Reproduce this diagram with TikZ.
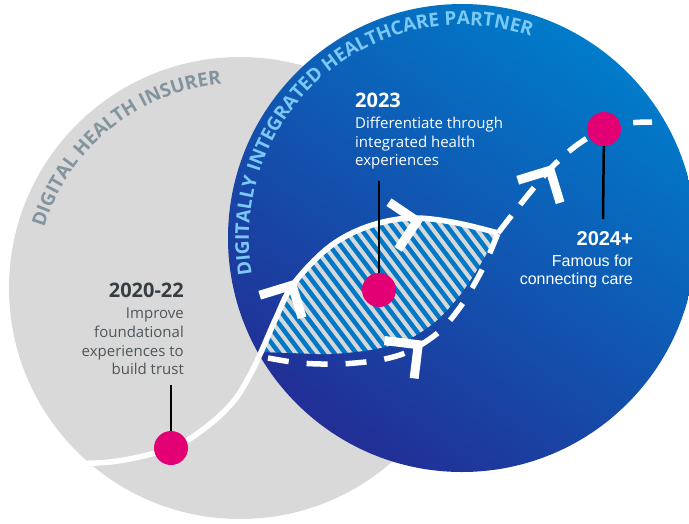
\documentclass[tikz,border=0pt]{standalone}
\usepackage{fontspec}
\setmainfont{Open Sans}
\newfontfamily\arialfont{Liberation Sans}
\newfontfamily\arcfont{Open Sans}
\usetikzlibrary{calc,decorations.text}

\definecolor{greydisc}{RGB}{217,217,217}
\definecolor{bluetop}{RGB}{0,124,202}
\definecolor{bluemid}{RGB}{14,88,182}
\definecolor{bluelow}{RGB}{34,46,150}
\definecolor{arcgrey}{RGB}{130,148,158}
\definecolor{arcblue}{RGB}{122,200,246}
\definecolor{pin}{RGB}{226,0,116}
\definecolor{hatchblue}{RGB}{0,120,200}
\definecolor{hatchgrey}{RGB}{215,215,215}
\definecolor{yeargrey}{RGB}{55,62,66}
\definecolor{bodygrey}{RGB}{78,86,90}

\tikzset{
  pathline/.style={white, line width=5.5pt},
  dashline/.style={white, line width=5.5pt, dash pattern=on 21pt off 18pt},
  dashlineup/.style={white, line width=5.5pt, dash pattern=on 22pt off 14pt},
  stem/.style={pin, line width=2.5pt},
  pindot/.style={circle, fill=pin, minimum size=34pt, inner sep=0pt},
  yeartext/.style={font=\bfseries\fontsize{20}{22}\selectfont, inner sep=0pt},
  bodytext/.style={font=\fontsize{15}{18.6}\selectfont, inner sep=0pt},
  chev/.pic={\draw[white, line width=9pt, line join=miter, miter limit=10]
    (-30,-24) -- (-6,0) -- (-30,24);},
}

\begin{document}
\begin{tikzpicture}[x=1pt, y=-1pt]
\useasboundingbox (0,0) rectangle (689,523);

% the two discs
\coordinate (gc) at (240,288);
\coordinate (bc) at (462,238);
\fill[greydisc] (gc) circle (231);
\shade[top color=bluetop, middle color=bluemid, bottom color=bluelow, shading angle=-35]
  (bc) circle (234);

% curved titles
\path[decorate, decoration={text along path, text align=center,
  text={|\arcfont\bfseries\fontsize{19}{19}\selectfont\color{arcgrey}|DIGITAL HEALTH INSURER}}]
  ($(gc)+(-175:205)$) arc[start angle=-175, end angle=-83, radius=205];
\path[decorate, decoration={text along path, text align=center,
  text={|\arcfont\bfseries\fontsize{19}{19}\selectfont\color{arcblue}|DIGITALLY INTEGRATED HEALTHCARE PARTNER}}]
  ($(bc)+(-200:213)$) arc[start angle=-200, end angle=-61, radius=213];

% striped lens between the two routes
\begin{scope}
  \clip plot[smooth] coordinates {(262,352) (276,318) (292,286) (322,253) (350,234)
      (383,222) (417,218) (457,223) (498,233)}
    -- plot[smooth] coordinates {(498,233) (480,265) (460,295) (435,322) (405,341)
      (370,350) (330,354) (290,353) (262,352)} -- cycle;
  \fill[hatchblue] (240,200) rectangle (520,380);
  \foreach \k in {0,...,38}
    \draw[hatchgrey, line width=4pt] (110+11*\k,195) -- ++(140,185);
\end{scope}

% routes
\draw[pathline] plot[smooth, tension=0.6] coordinates {(40,463) (110,462) (171,448)
  (205,428) (233,402) (250,375) (262,350) (276,318) (292,286) (322,253) (350,234)
  (383,222) (417,218) (457,223) (498,233)};
\coordinate (merge) at (498,233);
\draw[dashline] plot[smooth] coordinates {(268,358) (300,363) (340,364) (380,360)
  (410,351) (440,331) (463,303) (484,266) (merge)};
\draw[dashlineup] plot[smooth] coordinates {(merge) (512,215) (532,190) (553,166)
  (577,145) (604,129) (630,123) (652,122)};

% direction marks
\pic[rotate=62] at (295,280) {chev};
\pic[rotate=11] at (423,220) {chev};
\pic[rotate=38] at (423,341) {chev};
\pic[rotate=62] at (553,165) {chev};

% milestones
\coordinate (s1) at (171,385);
\coordinate (s2) at (379,181);
\coordinate (s3) at (603,219);
\node[pindot] (d1) at (171,448) {};
\node[pindot] (d2) at (379,290) {};
\node[pindot] (d3) at (604,129) {};
\draw[stem] (s1) -- (d1);
\draw[stem] (s2) -- (d2);
\draw[stem] (s3) -- (d3);

% labels
\node[yeartext, text=yeargrey, anchor=base east] (y1) at (184,297) {2020-22};
\node[bodytext, text=bodygrey, align=right, anchor=north east] (b1) at (184,308)
  {Improve\\foundational\\experiences to\\build trust};

\node[yeartext, text=white, anchor=base west] (y2) at (355,107) {2023};
\node[bodytext, text=white, align=left, anchor=north west] (b2) at (355,117)
  {Differentiate through\\integrated health\\experiences};

\node[yeartext, font=\arialfont\bfseries\fontsize{20}{22}\selectfont, text=white,
  anchor=base east] (y3) at (633,245) {2024+};
\node[font=\arialfont\fontsize{16}{17.5}\selectfont, inner sep=0pt, text=white,
  align=right, anchor=north east] (b3) at (633,255) {Famous for\\connecting care};
\end{tikzpicture}
\end{document}
